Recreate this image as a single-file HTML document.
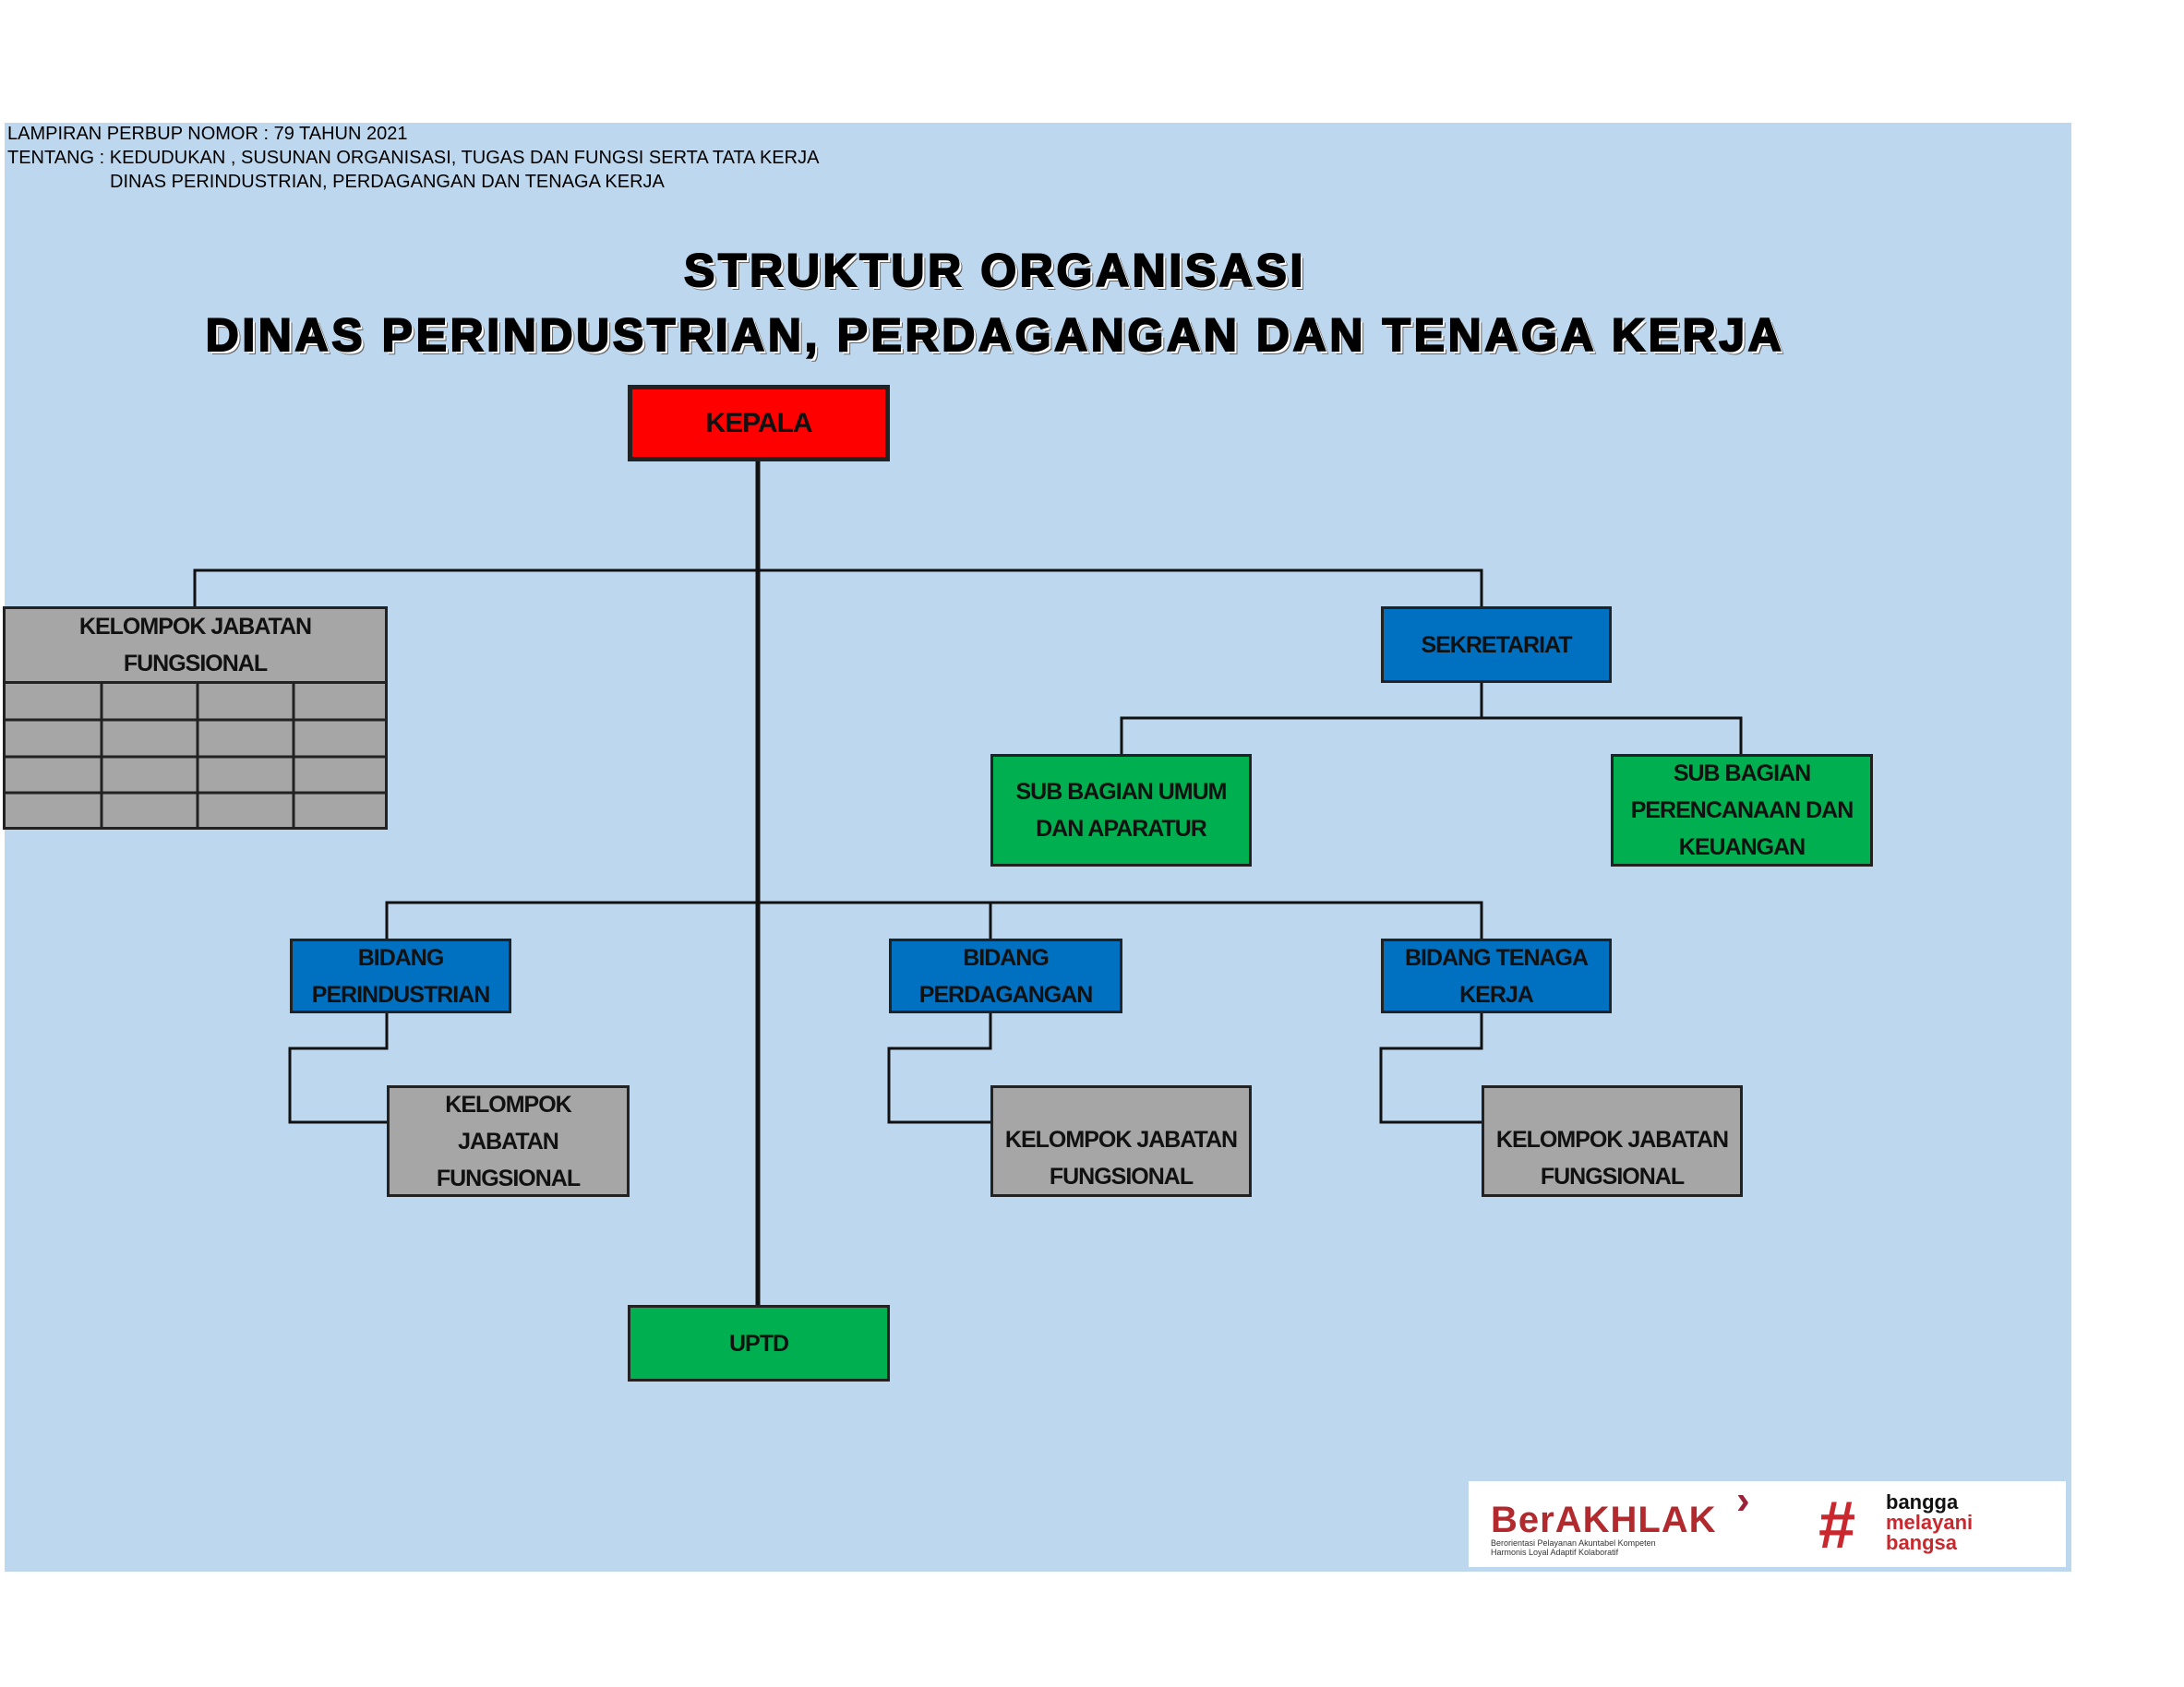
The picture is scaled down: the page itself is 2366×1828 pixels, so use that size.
<!DOCTYPE html>
<html><head><meta charset="utf-8"><style>
body{margin:0;width:2366px;height:1828px;background:#fff;position:relative;overflow:hidden;font-family:"Liberation Sans",sans-serif}
.bg{position:absolute;left:5px;top:133px;width:2239px;height:1570px;background:#bdd7ee}
.hd{position:absolute;left:8px;font-size:20px;color:#000;letter-spacing:0px}
.t{position:absolute;left:0;width:2156px;text-align:center;font-family:"Liberation Sans",sans-serif;font-weight:900;font-size:50px;color:#000;letter-spacing:3.6px;-webkit-text-stroke:2px #000;text-shadow:3px 3px 0 #fff,4px 4px 0 #666}
.b{position:absolute;box-sizing:border-box;border:3px solid #222;display:flex;align-items:center;justify-content:center;text-align:center;font-weight:bold;font-size:25px;letter-spacing:-1px;line-height:40px;color:#111}
.r{background:#ff0000;border-width:5px;font-size:30px}
.u{background:#0070c0}.g{background:#00b050}.y{background:#a6a6a6}
svg{position:absolute;left:0;top:0}
</style></head><body>
<div class="bg"></div>
<div class="hd" style="top:134px">LAMPIRAN PERBUP NOMOR : 79 TAHUN 2021</div>
<div class="hd" style="top:160px">TENTANG : KEDUDUKAN , SUSUNAN ORGANISASI, TUGAS DAN FUNGSI SERTA TATA KERJA</div>
<div class="hd" style="top:186px;left:119px">DINAS PERINDUSTRIAN, PERDAGANGAN DAN TENAGA KERJA</div>
<div class="t" style="top:264px">STRUKTUR ORGANISASI</div>
<div class="t" style="top:334px">DINAS PERINDUSTRIAN, PERDAGANGAN DAN TENAGA KERJA</div>
<svg width="2366" height="1828" fill="none" stroke="#111" stroke-width="3">
<line x1="821" y1="499" x2="821" y2="1414" stroke-width="5"/>
<polyline points="211,657 211,618 1605,618 1605,657"/>
<polyline points="1605,739 1605,778"/>
<polyline points="1215,817 1215,778 1886,778 1886,817"/>
<polyline points="419,1017 419,978 1605,978 1605,1017"/>
<line x1="1073" y1="978" x2="1073" y2="1017"/>
<polyline points="419,1097 419,1136 314,1136 314,1216 419,1216"/>
<polyline points="1073,1097 1073,1136 963,1136 963,1216 1073,1216"/>
<polyline points="1605,1097 1605,1136 1496,1136 1496,1216 1605,1216"/>
</svg>
<div class="b r" style="left:680px;top:417px;width:284px;height:83px">KEPALA</div>
<div class="b y" style="left:3px;top:657px;width:417px;height:242px;display:block;padding:0">
<div style="height:78px;display:flex;align-items:center;justify-content:center;border-bottom:3px solid #222">KELOMPOK JABATAN<br>FUNGSIONAL</div>
<svg width="411" height="155" style="top:81px" stroke="#222" stroke-width="3"><line x1="0" y1="39" x2="411" y2="39"/><line x1="0" y1="79" x2="411" y2="79"/><line x1="0" y1="118" x2="411" y2="118"/><line x1="104" y1="0" x2="104" y2="155"/><line x1="208" y1="0" x2="208" y2="155"/><line x1="312" y1="0" x2="312" y2="155"/></svg>
</div>
<div class="b u" style="left:1496px;top:657px;width:250px;height:83px">SEKRETARIAT</div>
<div class="b g" style="left:1073px;top:817px;width:283px;height:122px">SUB BAGIAN UMUM<br>DAN APARATUR</div>
<div class="b g" style="left:1745px;top:817px;width:284px;height:122px">SUB BAGIAN<br>PERENCANAAN DAN<br>KEUANGAN</div>
<div class="b u" style="left:314px;top:1017px;width:240px;height:81px">BIDANG<br>PERINDUSTRIAN</div>
<div class="b u" style="left:963px;top:1017px;width:253px;height:81px">BIDANG<br>PERDAGANGAN</div>
<div class="b u" style="left:1496px;top:1017px;width:250px;height:81px">BIDANG TENAGA<br>KERJA</div>
<div class="b y" style="left:419px;top:1176px;width:263px;height:121px">KELOMPOK<br>JABATAN<br>FUNGSIONAL</div>
<div class="b y" style="left:1073px;top:1176px;width:283px;height:121px;padding-top:36px;white-space:nowrap">KELOMPOK JABATAN<br>FUNGSIONAL</div>
<div class="b y" style="left:1605px;top:1176px;width:283px;height:121px;padding-top:36px;white-space:nowrap">KELOMPOK JABATAN<br>FUNGSIONAL</div>
<div class="b g" style="left:680px;top:1414px;width:284px;height:83px">UPTD</div>
<div style="position:absolute;left:1591px;top:1605px;width:647px;height:93px;background:#fff;font-family:'Liberation Sans',sans-serif">
<div style="position:absolute;left:24px;top:20px;font-size:40px;font-weight:bold;color:#b22a2e;letter-spacing:1px">BerAKHLAK</div>
<div style="position:absolute;left:290px;top:-4px;font-size:44px;font-weight:bold;color:#9a2238">›</div>
<div style="position:absolute;left:24px;top:62px;font-size:9px;line-height:10px;color:#333">Berorientasi Pelayanan Akuntabel Kompeten<br>Harmonis Loyal Adaptif Kolaboratif</div>
<div style="position:absolute;left:378px;top:8px;font-size:72px;font-weight:bold;color:#c8282e;line-height:80px;font-style:italic">#</div>
<div style="position:absolute;left:452px;top:12px;font-size:22px;line-height:22px;font-weight:bold;color:#111">bangga<br><span style="color:#c8282e">melayani<br>bangsa</span></div>
</div>
</body></html>
